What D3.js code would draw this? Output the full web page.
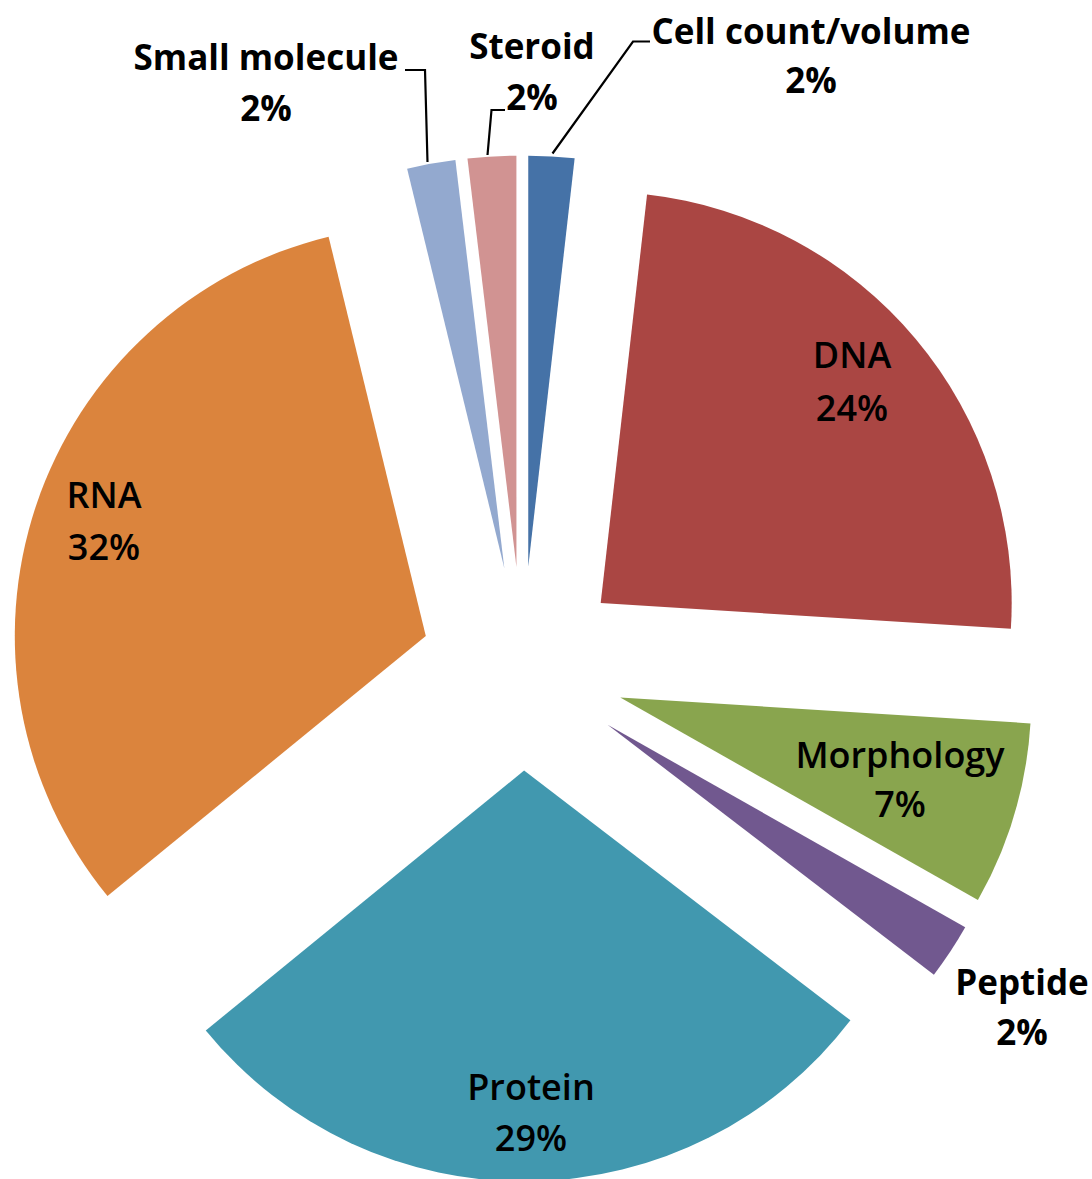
<!DOCTYPE html>
<html>
<head>
<meta charset="utf-8">
<script src="https://cdn.jsdelivr.net/npm/d3@7"></script>
<style>
  html, body { margin: 0; padding: 0; background: #fff; }
  svg { display: block; }
  text { font-family: "Open Sans", "Noto Sans", sans-serif; fill: #000; }
</style>
</head>
<body>
<div id="chart"></div>
<script>
// ---- data (clockwise from 12 o'clock) ----
const categories = ["Cell count/volume", "DNA", "Morphology", "Peptide", "Protein", "RNA", "Small molecule", "Steroid"];
const shares = [1.8, 24.2, 7.2, 2.2, 28.7, 32.1, 1.9, 1.9];
const colors = ["#4572A7", "#AA4643", "#89A54E", "#71588F", "#4198AF", "#DB843D", "#93A9CF", "#D19392"];

// ---- layout ----
const W = 1092, H = 1179;
const cx = 522.5, cy = 668.5, R = 411, explode = 102;

// label placement (first-line baseline anchor, inside or outside)
const labelPos = {
  "Cell count/volume": {x: 811, y: 44, line: 49, outside: true},
  "DNA": {x: 852, y: 368, line: 53, outside: false},
  "Morphology": {x: 900, y: 768, line: 49, outside: false},
  "Peptide": {x: 1022, y: 995, line: 50, outside: true},
  "Protein": {x: 531, y: 1100, line: 51, outside: false},
  "RNA": {x: 104, y: 508, line: 52, outside: false},
  "Small molecule": {x: 266, y: 70, line: 51, outside: true},
  "Steroid": {x: 532, y: 59, line: 51, outside: true}
};
// leader lines (label end -> slice)
const leaders = {
  "Cell count/volume": [[650, 41.5], [633, 41.5], [552.5, 153.5]],
  "Steroid": [[505, 110], [491.5, 110], [487.5, 155]],
  "Small molecule": [[405, 70], [425, 70], [427.5, 162]]
};

const data = categories.map((c, i) => ({cat: c, value: shares[i], color: colors[i]}));

const svg = d3.select("#chart").append("svg")
  .attr("width", W).attr("height", H);

const pie = d3.pie().sort(null).value(d => d.value).startAngle(0).endAngle(2 * Math.PI);
const arc = d3.arc().innerRadius(0).outerRadius(R);
const arcs = pie(data);

const g = svg.append("g").attr("transform", `translate(${cx},${cy})`);

g.selectAll("path.slice")
  .data(arcs)
  .join("path")
  .attr("class", "slice")
  .attr("fill", d => d.data.color)
  .attr("transform", d => {
    const mid = (d.startAngle + d.endAngle) / 2;
    return `translate(${explode * Math.sin(mid)},${-explode * Math.cos(mid)})`;
  })
  .attr("d", arc);

// leader lines
const line = d3.line();
Object.entries(leaders).forEach(([k, pts]) => {
  svg.append("path")
    .attr("d", line(pts))
    .attr("fill", "none")
    .attr("stroke", "#000")
    .attr("stroke-width", 2.2);
});

// labels
arcs.forEach(d => {
  const p = labelPos[d.data.cat];
  const t = svg.append("text")
    .attr("text-anchor", "middle")
    .attr("font-size", p.outside ? 35 : 36)
    .attr("font-weight", p.outside ? 700 : 600);
  t.append("tspan").attr("x", p.x).attr("y", p.y).text(d.data.cat);
  t.append("tspan").attr("x", p.x).attr("y", p.y + p.line).text(Math.round(d.data.value) + "%");
});
</script>
</body>
</html>
